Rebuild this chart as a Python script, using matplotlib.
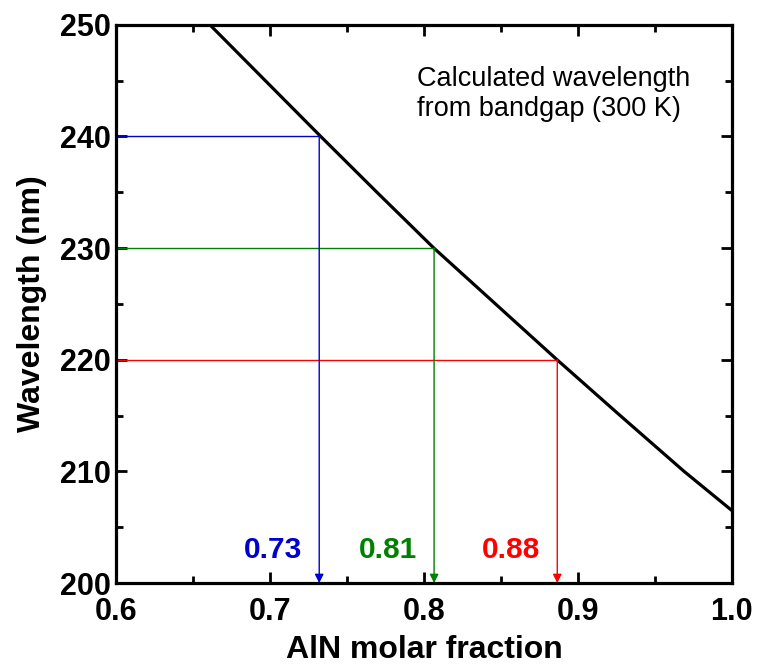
import matplotlib.pyplot as plt
from matplotlib.ticker import MultipleLocator

plt.rcParams['font.family'] = ['Liberation Sans', 'DejaVu Sans']

# calculated curve
frac = [0.661, 0.697, 0.733, 0.7695, 0.8065, 0.8465, 0.8865, 0.9275, 0.969, 1.0]
wl = [250.0, 245.0, 240.0, 235.0, 230.0, 225.0, 220.0, 215.0, 210.0, 206.5]

# target wavelengths and their molar fractions
target_wl = [240, 230, 220]
target_x = [0.732, 0.8066, 0.8866]
target_lab = ['0.73', '0.81', '0.88']
target_col = ['#0000cc', '#008000', '#ff0000']

fig = plt.figure(figsize=(7.6, 6.71), dpi=100)
ax = fig.add_subplot(111)
fig.subplots_adjust(left=0.1526, right=0.963, top=0.963, bottom=0.131)

ax.plot(frac, wl, color='black', lw=2.3)

for w, x, lab, c in zip(target_wl, target_x, target_lab, target_col):
    ax.plot([0.6, x], [w, w], color=c, lw=1)
    ax.annotate('', xy=(x, 200), xytext=(x, w),
                arrowprops=dict(arrowstyle='-|>', color=c, lw=1,
                                mutation_scale=13, shrinkA=0, shrinkB=0))
    ax.text(x - 0.011, 203.0, lab, color=c, fontsize=21.5, fontweight='bold',
            ha='right', va='center')

ax.text(0.7955, 243.8, 'Calculated wavelength\nfrom bandgap (300 K)',
        fontsize=19.5, ha='left', va='center', linespacing=1.2)

ax.set_xlim(0.6, 1.0)
ax.set_ylim(200, 250)
ax.xaxis.set_major_locator(MultipleLocator(0.1))
ax.xaxis.set_minor_locator(MultipleLocator(0.05))
ax.yaxis.set_major_locator(MultipleLocator(10))
ax.yaxis.set_minor_locator(MultipleLocator(5))
ax.xaxis.set_major_formatter(plt.FuncFormatter(lambda v, p: '%.1f' % v))

ax.tick_params(which='both', direction='in', top=True, right=True, width=2)
ax.tick_params(which='major', length=8, labelsize=22)
ax.tick_params(axis='x', which='major', pad=10)
ax.tick_params(axis='y', which='major', pad=4)
ax.tick_params(which='minor', length=5)
for lbl in ax.get_xticklabels() + ax.get_yticklabels():
    lbl.set_fontweight('bold')
for sp in ax.spines.values():
    sp.set_linewidth(2.3)

ax.set_xlabel('AlN molar fraction', fontsize=23, fontweight='bold', labelpad=6)
ax.set_ylabel('Wavelength (nm)', fontsize=23, fontweight='bold')
ax.yaxis.set_label_coords(-0.112, 0.5)

fig.savefig('out.png', dpi=100)
